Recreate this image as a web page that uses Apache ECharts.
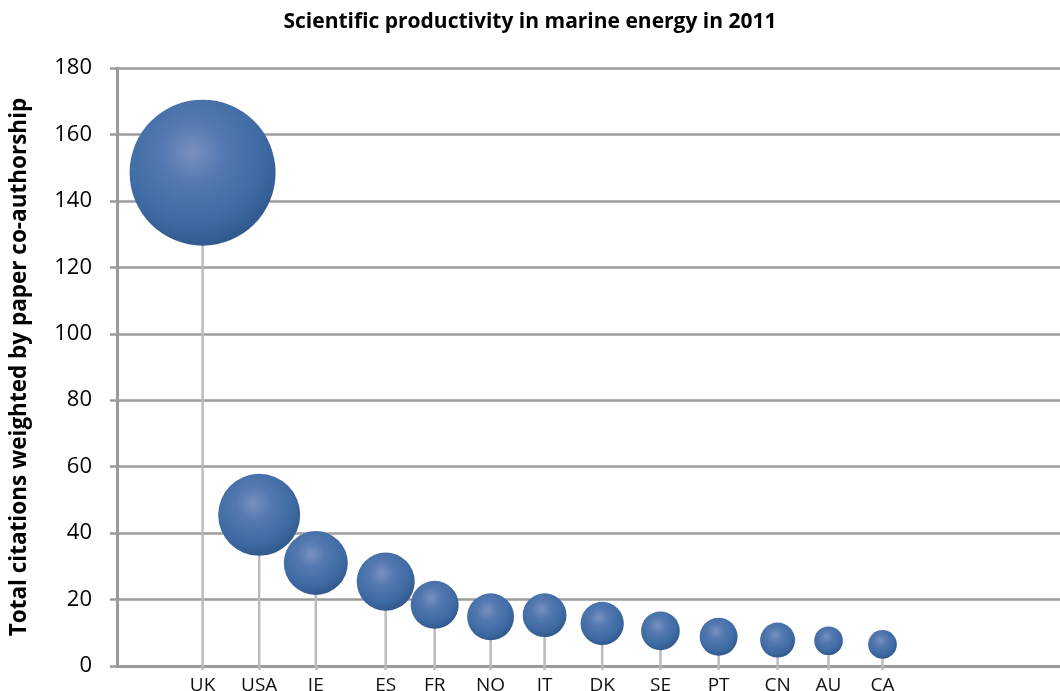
<!DOCTYPE html>
<html>
<head>
<meta charset="utf-8">
<script src="https://cdn.jsdelivr.net/npm/echarts@6/dist/echarts.min.js"></script>
<style>
  html, body { margin: 0; padding: 0; background: #fff; }
  #chart { width: 1060px; height: 691px; }
</style>
</head>
<body>
<div id="chart"></div>
<script>
// Countries, their horizontal placement, weighted citation totals and bubble sizes
const countries = ['UK', 'USA', 'IE', 'ES', 'FR', 'NO', 'IT', 'DK', 'SE', 'PT', 'CN', 'AU', 'CA'];
const xPositions = [1.543, 2.563, 3.584, 4.844, 5.727, 6.735, 7.708, 8.747, 9.797, 10.846, 11.909, 12.827, 13.800];
const citations = [148.5, 45.5, 31, 25.4, 18.4, 14.8, 15.3, 12.8, 10.6, 8.8, 7.8, 7.6, 6.5];
const bubbleSizes = [148, 46.7, 28.4, 23.4, 16, 15.3, 13.3, 13, 10.4, 10, 8.5, 5.7, 5.7];
const yTicks = [0, 20, 40, 60, 80, 100, 120, 140, 160, 180];

const labelByX = {};
xPositions.forEach((x, i) => { labelByX[x.toFixed(3)] = countries[i]; });

const points = countries.map((c, i) => [xPositions[i], citations[i], bubbleSizes[i], c]);

// shaded sphere fill for the bubbles
const sphere = {
  type: 'radial', x: 0.43, y: 0.36, r: 0.7,
  colorStops: [
    { offset: 0, color: '#7891c0' },
    { offset: 0.3, color: '#5479b0' },
    { offset: 0.7, color: '#3e6aa3' },
    { offset: 1, color: '#2d5387' }
  ]
};

const chart = echarts.init(document.getElementById('chart'));
chart.setOption({
  animation: false,
  title: {
    text: 'Scientific productivity in marine energy in 2011',
    left: 'center', top: 7,
    textStyle: { fontFamily: 'Open Sans', fontWeight: 'bold', fontSize: 21, color: '#000' }
  },
  grid: { left: 117, right: 0, top: 68, bottom: 25, containLabel: false, outerBoundsMode: 'none' },
  xAxis: {
    type: 'value', min: 0, max: 17,
    splitLine: { show: false },
    axisLine: { show: true, onZero: false, lineStyle: { color: '#9a9a9a', width: 3 } },
    axisTick: { show: true, customValues: xPositions, length: 4, lineStyle: { color: '#bbbbbb', width: 2.5 } },
    axisLabel: {
      customValues: xPositions,
      formatter: v => labelByX[Number(v).toFixed(3)] || '',
      fontFamily: 'Open Sans', fontSize: 19, color: '#111', margin: 10
    }
  },
  yAxis: {
    type: 'value', min: 0, max: 180, interval: 20,
    name: 'Total citations weighted by paper co-authorship',
    nameLocation: 'middle', nameGap: 86,
    nameTextStyle: { fontFamily: 'Open Sans', fontWeight: 'bold', fontSize: 22.5, color: '#000' },
    axisLine: { show: true, lineStyle: { color: '#9a9a9a', width: 3 } },
    axisTick: { show: true, length: 7, inside: false, lineStyle: { color: '#9a9a9a', width: 2.5 } },
    axisLabel: {
      fontFamily: 'Open Sans', fontSize: 22, color: '#000', margin: 25,
      formatter: v => yTicks.includes(v) ? String(v) : ''
    },
    splitLine: { show: true, lineStyle: { color: '#9c9c9c', width: 2.5 } }
  },
  series: [
    {
      // drop lines from each bubble down to the baseline
      type: 'custom',
      z: 1,
      data: points,
      renderItem: (params, api) => {
        const top = api.coord([api.value(0), api.value(1)]);
        const base = api.coord([api.value(0), 0]);
        return {
          type: 'line',
          shape: { x1: top[0], y1: top[1], x2: base[0], y2: base[1] },
          style: { stroke: '#bbbbbb', lineWidth: 2.5 }
        };
      }
    },
    {
      type: 'scatter',
      z: 3,
      data: points,
      symbol: 'circle',
      symbolSize: d => 12.0 * Math.sqrt(d[2]),
      itemStyle: { color: sphere, opacity: 1 }
    }
  ]
});
</script>
</body>
</html>
